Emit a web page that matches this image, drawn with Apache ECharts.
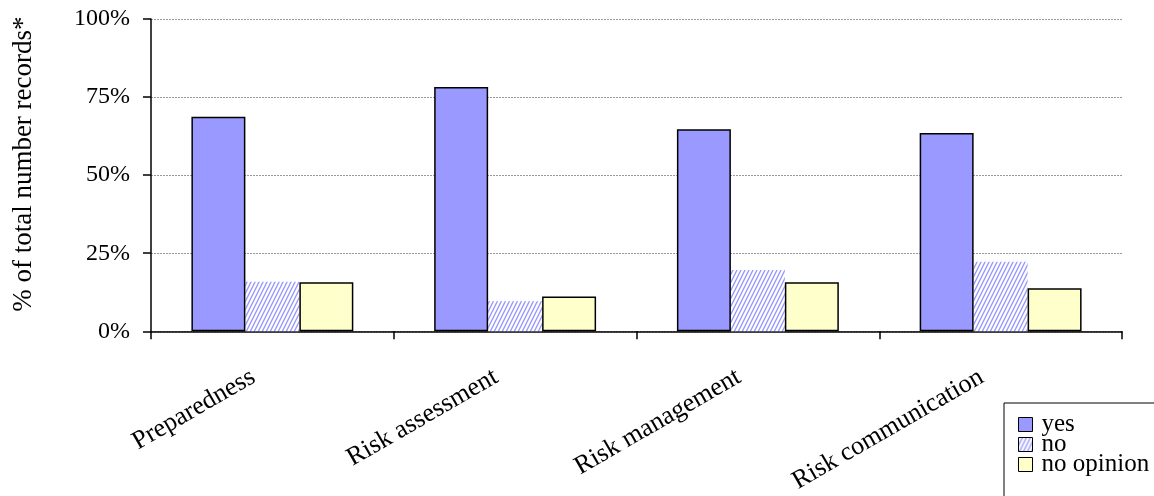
<!DOCTYPE html>
<html>
<head>
<meta charset="utf-8">
<script src="https://cdn.jsdelivr.net/npm/echarts@6/dist/echarts.min.js"></script>
<style>
html,body{margin:0;padding:0;background:#fff;}
#chart{width:1154px;height:496px;}
</style>
</head>
<body>
<div id="chart"></div>
<script>
const categories = ['Preparedness', 'Risk assessment', 'Risk management', 'Risk communication'];
const seriesNames = ['yes', 'no', 'no opinion'];
const yesValues = [68.7, 78.2, 64.7, 63.5];
const noValues = [15.9, 9.6, 19.6, 22.3];
const noOpinionValues = [15.7, 11.1, 15.7, 13.8];
const yTicks = [0, 25, 50, 75, 100];

function hatch() {
  const c = document.createElement('canvas');
  c.width = 4; c.height = 8;
  const g = c.getContext('2d');
  g.fillStyle = '#ffffff';
  g.fillRect(0, 0, 4, 8);
  g.strokeStyle = '#9999ff';
  g.lineWidth = 1.4;
  g.beginPath();
  g.moveTo(0, 8); g.lineTo(4, 0);
  g.moveTo(-1, 2); g.lineTo(1, -2);
  g.moveTo(3, 10); g.lineTo(5, 6);
  g.stroke();
  return c;
}

const font = 'Liberation Serif';
const chart = echarts.init(document.getElementById('chart'));
chart.setOption({
  animation: false,
  backgroundColor: '#ffffff',
  textStyle: { fontFamily: font, color: '#000' },
  grid: { left: 151, right: 32, top: 19, bottom: 163 },
  legend: {
    orient: 'vertical',
    left: 1004, top: 403, height: 200, width: 200,
    padding: [9, 40, 30, 14],
    backgroundColor: '#fff',
    borderColor: '#000', borderWidth: 1, borderRadius: 0,
    itemWidth: 14, itemHeight: 14, itemGap: -5,
    icon: 'rect',
    itemStyle: { borderColor: '#000', borderWidth: 1 },
    textStyle: { fontFamily: font, fontSize: 25, color: '#000', padding: [0, 0, 0, 4] },
    data: seriesNames
  },
  xAxis: {
    type: 'category',
    data: categories,
    axisLine: { lineStyle: { color: '#000', width: 1.5 } },
    axisTick: { show: true, length: 8, lineStyle: { color: '#000', width: 1.5 } },
    axisLabel: { rotate: 30, margin: 33, fontSize: 26, fontFamily: font, color: '#000', padding: [0, 22, 0, 0] }
  },
  yAxis: {
    type: 'value', min: 0, max: 100, interval: 25,
    name: '% of total number records*',
    nameLocation: 'middle', nameGap: 114,
    nameTextStyle: { fontSize: 27, fontFamily: font, color: '#000', padding: [0, 0, 0, 22] },
    axisLine: { show: true, lineStyle: { color: '#000', width: 1.5 } },
    axisTick: { show: true, length: 8, lineStyle: { color: '#000', width: 1.5 } },
    axisLabel: { margin: 21, fontSize: 24, fontFamily: font, color: '#000',
      formatter: v => yTicks.includes(v) ? v + '%' : '' },
    splitLine: { show: true, lineStyle: { color: '#999', type: [2, 1], width: 1 } }
  },
  series: [
    { name: seriesNames[0], type: 'bar', data: yesValues, barGap: '0%', barCategoryGap: '33.3%',
      itemStyle: { color: '#9999ff', borderColor: '#000', borderWidth: 1.5 } },
    { name: seriesNames[1], type: 'bar', data: noValues, z: 1,
      itemStyle: { color: { image: hatch(), repeat: 'repeat' }, borderWidth: 0 } },
    { name: seriesNames[2], type: 'bar', data: noOpinionValues,
      itemStyle: { color: '#ffffcc', borderColor: '#000', borderWidth: 1.5 } }
  ]
});
</script>
</body>
</html>
